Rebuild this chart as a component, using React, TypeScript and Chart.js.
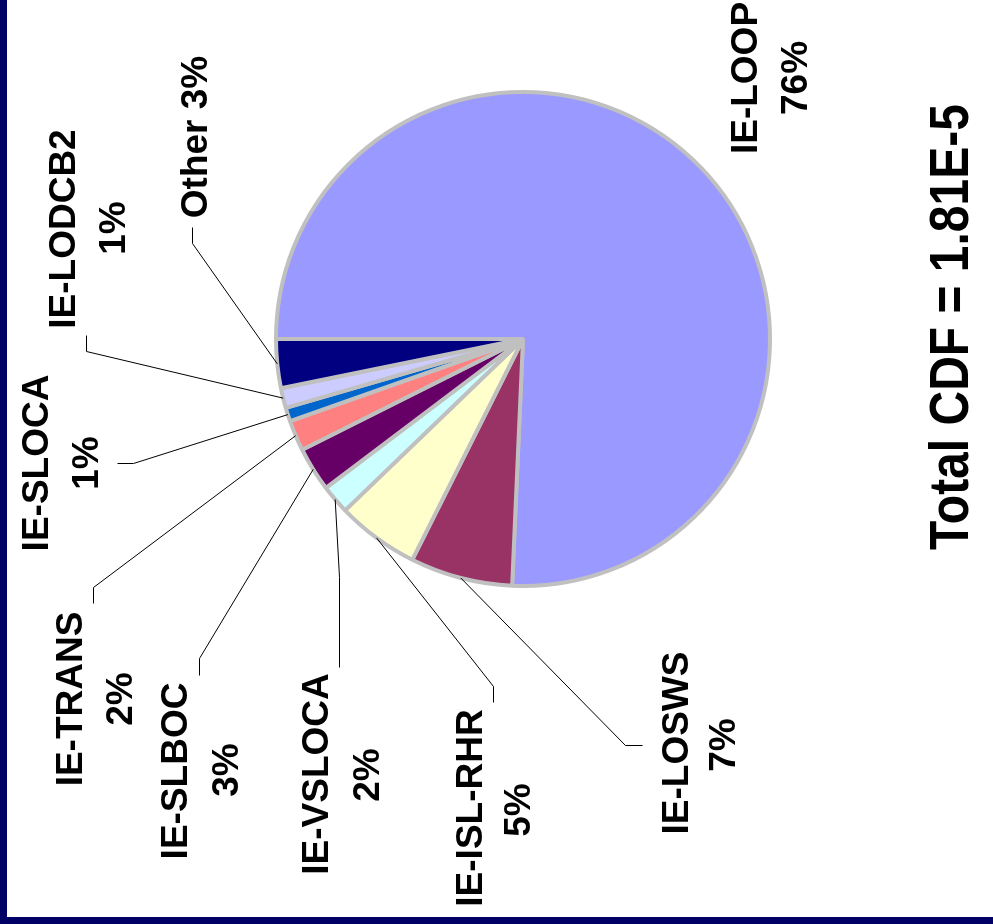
import React, { useEffect, useRef } from "react";
import { Chart, registerables } from "chart.js";

Chart.register(...registerables);

// ---- data ----
const categories = [
  "IE-LOOP",
  "IE-LOSWS",
  "IE-ISL-RHR",
  "IE-VSLOCA",
  "IE-SLBOC",
  "IE-TRANS",
  "IE-SLOCA",
  "IE-LODCB2",
  "Other",
];
const shares = [75.7, 6.7, 5.4, 1.9, 2.9, 2.0, 0.9, 1.3, 3.2];
const sliceColors = [
  "#9999FF",
  "#993366",
  "#FFFFCC",
  "#CCFFFF",
  "#660066",
  "#FF8080",
  "#0066CC",
  "#CCCCFF",
  "#000080",
];
const totalLabel = "Total CDF = 1.81E-5";

// ---- label layout (annotation placement, screen px) ----
type Pt = [number, number];
interface LabelLayout {
  single?: boolean;
  nameX: number;
  nameY: number;
  pctX?: number;
  pctY?: number;
  leader?: Pt[]; // elbow, then label end
}
const LABEL_LAYOUT: LabelLayout[] = [
  { nameX: 757, nameY: 78, pctX: 807, pctY: 78 },
  { nameX: 688, nameY: 743, pctX: 735, pctY: 745, leader: [[625, 745], [642, 745]] },
  { nameX: 482, nameY: 808, pctX: 530, pctY: 810, leader: [[493, 686], [493, 702]] },
  { nameX: 328, nameY: 774, pctX: 379, pctY: 775, leader: [[339, 577], [339, 667]] },
  { nameX: 187, nameY: 771, pctX: 238, pctY: 770, leader: [[199, 658], [199, 675]] },
  { nameX: 82, nameY: 699, pctX: 132, pctY: 699, leader: [[93, 587], [93, 603]] },
  { nameX: 48, nameY: 463, pctX: 98, pctY: 463, leader: [[133, 463], [117, 463]] },
  { nameX: 75, nameY: 229, pctX: 125, pctY: 228, leader: [[86, 351], [86, 335]] },
  { single: true, nameX: 207, nameY: 137, leader: [[192, 243], [192, 227]] },
];

const W = 993;
const H = 924;
const NAVY = "#000066";
const FONT = '"Liberation Sans", Arial, sans-serif';

function drawRotated(ctx: CanvasRenderingContext2D, text: string, x: number, y: number, size: number, stretch = 1) {
  ctx.save();
  ctx.translate(x, y);
  ctx.rotate(-Math.PI / 2);
  ctx.scale(1, stretch);
  ctx.font = `bold ${size}px ${FONT}`;
  ctx.fillStyle = "#000000";
  ctx.textAlign = "center";
  ctx.textBaseline = "alphabetic";
  ctx.fillText(text, 0, 0);
  ctx.restore();
}

const backgroundPlugin = {
  id: "slideBackground",
  beforeDraw(chart: any) {
    const ctx: CanvasRenderingContext2D = chart.ctx;
    ctx.save();
    ctx.fillStyle = "#FFFFFF";
    ctx.fillRect(0, 0, W, H);
    ctx.fillStyle = NAVY;
    ctx.fillRect(0, 0, 7, H);
    ctx.fillRect(0, 917, W, 7);
    ctx.restore();
  },
};

const labelPlugin = {
  id: "rotatedLabels",
  afterDatasetsDraw(chart: any) {
    const ctx: CanvasRenderingContext2D = chart.ctx;
    const meta = chart.getDatasetMeta(0);
    const values: number[] = chart.data.datasets[0].data;
    const total = values.reduce((a, b) => a + b, 0);
    meta.data.forEach((arc: any, i: number) => {
      const lay = LABEL_LAYOUT[i];
      if (!lay) return;
      const p = arc.getProps(["x", "y", "startAngle", "endAngle", "outerRadius"], true);
      const mid = (p.startAngle + p.endAngle) / 2;
      const sx = p.x + p.outerRadius * Math.cos(mid);
      const sy = p.y + p.outerRadius * Math.sin(mid);
      if (lay.leader) {
        ctx.save();
        ctx.strokeStyle = "#000000";
        ctx.lineWidth = 1;
        ctx.beginPath();
        ctx.moveTo(sx, sy);
        lay.leader.forEach(([lx, ly]) => ctx.lineTo(lx + 0.5, ly + 0.5));
        ctx.stroke();
        ctx.restore();
      }
      const pct = `${Math.round((values[i] / total) * 100)}%`;
      const name = chart.data.labels[i];
      if (lay.single) {
        drawRotated(ctx, `${name} ${pct}`, lay.nameX, lay.nameY, 37);
      } else {
        drawRotated(ctx, name, lay.nameX, lay.nameY, 37);
        drawRotated(ctx, pct, lay.pctX as number, lay.pctY as number, 37);
      }
    });
    drawRotated(ctx, totalLabel, 968, 327, 48, 1.17);
  },
};

export default function App() {
  const canvasRef = useRef<HTMLCanvasElement | null>(null);

  useEffect(() => {
    const canvas = canvasRef.current;
    if (!canvas) return;
    const chart = new Chart(canvas, {
      type: "pie",
      data: {
        labels: categories,
        datasets: [
          {
            data: shares,
            backgroundColor: sliceColors,
            borderColor: "#C0C0C0",
            borderWidth: 4,
          },
        ],
      },
      options: {
        responsive: false,
        maintainAspectRatio: false,
        animation: false,
        rotation: 270,
        radius: 247,
        layout: { padding: { left: 200, right: 147, top: 40, bottom: 286 } },
        plugins: {
          legend: { display: false },
          tooltip: { enabled: false },
        },
      } as any,
      plugins: [backgroundPlugin, labelPlugin],
    });
    return () => chart.destroy();
  }, []);

  return (
    <div style={{ position: "absolute", left: 0, top: 0, width: W, height: H, background: "#fff" }}>
      <canvas ref={canvasRef} width={W} height={H} style={{ display: "block", width: W, height: H }} />
    </div>
  );
}
